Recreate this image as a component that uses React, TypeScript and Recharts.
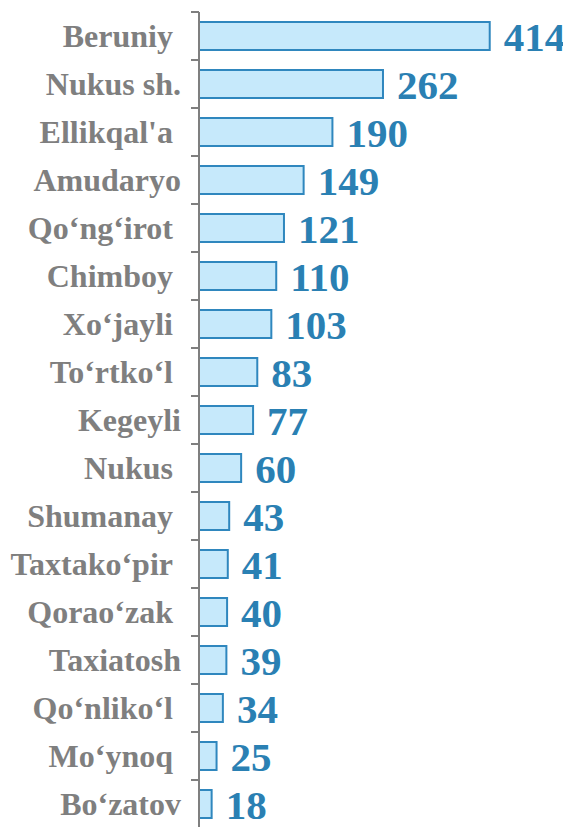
import { BarChart, Bar, XAxis, YAxis, LabelList } from 'recharts';

// district names (trailing nbsp kept as in the source labels)
const districts = [
  'Beruniy\u00A0',
  'Nukus sh.',
  "Ellikqal'a\u00A0",
  'Amudaryo',
  'Qo‘ng‘irot\u00A0',
  'Chimboy\u00A0',
  'Xo‘jayli\u00A0',
  'To‘rtko‘l\u00A0',
  'Kegeyli',
  'Nukus\u00A0',
  'Shumanay\u00A0',
  'Taxtako‘pir\u00A0',
  'Qorao‘zak\u00A0',
  'Taxiatosh',
  'Qo‘nliko‘l\u00A0',
  'Mo‘ynoq\u00A0',
  'Bo‘zatov',
];

const counts = [414, 262, 190, 149, 121, 110, 103, 83, 77, 60, 43, 41, 40, 39, 34, 25, 18];

const data = districts.map((name, i) => ({ name, value: counts[i] }));

const AXIS_GRAY = '#7f7f7f';
const BAND = 48;
const SERIF = "'Liberation Serif', 'Times New Roman', serif";

function DistrictTick({ x, y, payload }: { x?: number; y?: number; payload?: { value: string } }) {
  const px = x ?? 0;
  const py = y ?? 0;
  return (
    <g>
      <line x1={183} x2={191} y1={py - BAND / 2} y2={py - BAND / 2} stroke={AXIS_GRAY} strokeWidth={2} />
      <text
        x={px}
        y={py}
        dy="0.35em"
        textAnchor="end"
        fill={AXIS_GRAY}
        fontFamily={SERIF}
        fontWeight="bold"
        fontSize={32}
      >
        {payload?.value}
      </text>
    </g>
  );
}

export default function App() {
  return (
    <div style={{ width: 580, height: 822 }}>
      {/* chart runs past the page edges like the cropped original; keep scrollbars away */}
      <style>{'html, body { overflow: hidden; }'}</style>
      <BarChart
        width={580}
        height={822}
        data={data}
        layout="vertical"
        margin={{ top: 4, right: 73, bottom: 2, left: 0 }}
      >
        <XAxis type="number" domain={[0, 450]} hide />
        <YAxis
          type="category"
          dataKey="name"
          width={191}
          axisLine={{ stroke: AXIS_GRAY, strokeWidth: 2 }}
          tickLine={false}
          tickSize={8}
          tickMargin={10}
          interval={0}
          tick={<DistrictTick />}
        />
        <Bar
          dataKey="value"
          barSize={28}
          fill="#c6e9fb"
          stroke="#2f87be"
          strokeWidth={2}
          isAnimationActive={false}
        >
          <LabelList
            dataKey="value"
            position="right"
            offset={14}
            fill="#2a80b3"
            fontFamily={SERIF}
            fontWeight="bold"
            fontSize={41}
          />
        </Bar>
      </BarChart>
    </div>
  );
}
